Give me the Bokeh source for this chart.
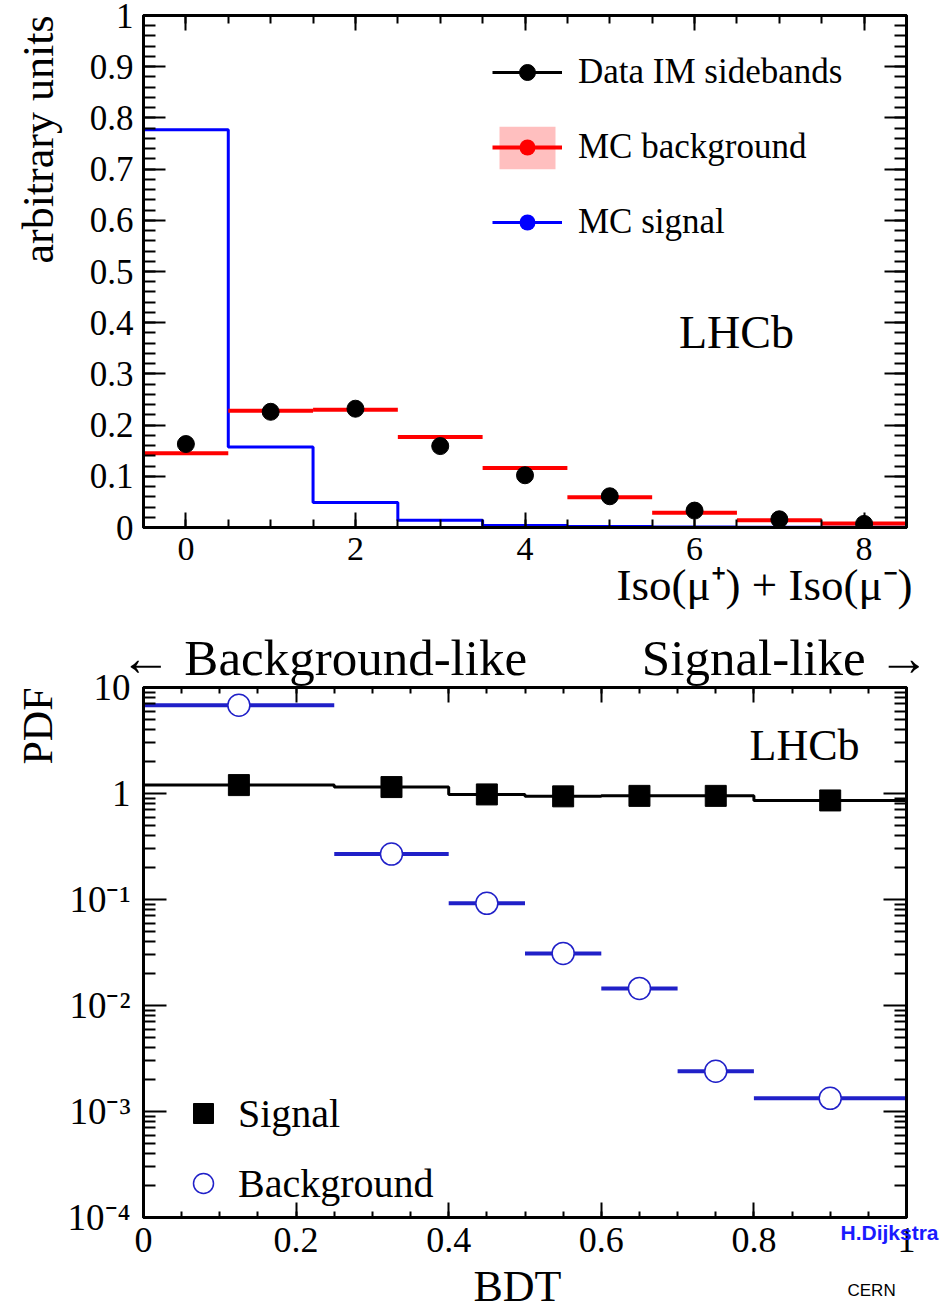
import math
from bokeh.plotting import figure
from bokeh.models import (Range1d, LinearAxis, LogAxis, SingleIntervalTicker, FixedTicker,
                          CustomJSTickFormatter, Label, Legend, LegendItem, Title)
from bokeh.layouts import column
from bokeh.embed import file_html
from bokeh.resources import INLINE

SERIF = "Liberation Serif"

# ---------------- data: top panel (isolation) ----------------
iso_centers = [0, 1, 2, 3, 4, 5, 6, 7, 8]
iso_data = [0.163, 0.226, 0.232, 0.159, 0.102, 0.061, 0.033, 0.016, 0.007]
iso_mc_bkg = [0.145, 0.228, 0.230, 0.177, 0.116, 0.059, 0.029, 0.014, 0.008]
iso_mc_sig = [0.777, 0.157, 0.049, 0.014, 0.004, 0.002, 0.001, 0.0005, 0.0005]

# ---------------- data: bottom panel (BDT) ----------------
bdt_edges = [0.0, 0.25, 0.4, 0.5, 0.6, 0.7, 0.8, 1.0]
bdt_signal = [1.20, 1.15, 0.98, 0.94, 0.95, 0.95, 0.86]
bdt_background = [6.8, 0.268, 0.092, 0.031, 0.0145, 0.0024, 0.00133]

iso_tick_step = 2
bdt_tick_step = 0.2

BLUE2 = "#2020c8"
NB = "\u00a0"


def style_axis(ax, major_in, minor_in, font_size, show=True, standoff=10):
    ax.axis_line_width = 3
    ax.axis_line_color = "black"
    ax.major_tick_in = major_in
    ax.major_tick_out = 0
    ax.minor_tick_in = minor_in
    ax.minor_tick_out = 0
    ax.major_tick_line_width = 2
    ax.minor_tick_line_width = 2
    ax.major_tick_line_color = "black"
    ax.minor_tick_line_color = "black"
    ax.major_label_text_font = SERIF
    ax.major_label_text_color = "black"
    if show:
        ax.major_label_text_font_size = font_size
        ax.major_label_standoff = standoff
    else:
        ax.major_label_text_font_size = "1px"
        ax.major_label_standoff = 0
        ax.formatter = CustomJSTickFormatter(code="return '';")
    ax.axis_label = None


def side_title(text, size, align, standoff, **kw):
    t = Title(text=text, align=align, text_font=SERIF, text_font_style="normal",
              text_font_size=size, text_color="black", standoff=standoff)
    for k, v in kw.items():
        setattr(t, k, v)
    return t


lin_fmt = CustomJSTickFormatter(code="return String(Number(tick.toFixed(3)));")
log_fmt = CustomJSTickFormatter(code="""
const e = Math.round(Math.log10(tick));
if (e == 0) { return '1'; }
if (e == 1) { return '10'; }
const sup = {'-':'\u207b','0':'\u2070','1':'\u00b9','2':'\u00b2','3':'\u00b3','4':'\u2074',
             '5':'\u2075','6':'\u2076','7':'\u2077','8':'\u2078','9':'\u2079'};
return '10' + String(e).split('').map(c => sup[c]).join('');
""")


def lab(fig, x, y, text, size, **kw):
    opts = dict(x=x, y=y, x_units="screen", y_units="screen", text=text, text_font=SERIF,
                text_font_size=size, text_color="black", text_align="center",
                text_baseline="middle")
    opts.update(kw)
    fig.add_layout(Label(**opts))


# ====================== TOP FIGURE ======================
top = figure(width=942, height=621, x_range=Range1d(-0.5, 8.5), y_range=Range1d(0, 1),
             output_backend="svg", toolbar_location=None,
             min_border_left=143, min_border_right=28, min_border_top=15, min_border_bottom=94)
top.xgrid.visible = False
top.ygrid.visible = False
top.outline_line_color = "black"
top.outline_line_width = 3

tx = SingleIntervalTicker(interval=iso_tick_step, num_minor_ticks=4)
ty = SingleIntervalTicker(interval=0.1, num_minor_ticks=5)
top.xaxis.ticker = tx
top.yaxis.ticker = ty
top.xaxis.formatter = lin_fmt
top.yaxis.formatter = lin_fmt
style_axis(top.xaxis[0], 15, 8, "34px", standoff=10)
style_axis(top.yaxis[0], 22, 12, "35px", standoff=10)
ax_above = LinearAxis(ticker=tx)
style_axis(ax_above, 15, 8, None, show=False)
top.add_layout(ax_above, "above")
ax_right = LinearAxis(ticker=ty)
style_axis(ax_right, 22, 12, None, show=False)
top.add_layout(ax_right, "right")
# axis titles (ROOT style: aligned at the axis end)
top.add_layout(side_title("arbitrary units\n" + NB, "44px", "right", -54,
                          vertical_align="top"), "left")
top.add_layout(side_title("Iso(\u03bc\u207a) + Iso(\u03bc\u207b)", "45px", "right", -5,
                          vertical_align="top", offset=-6), "below")

sig_edges = [c - 0.5 for c in iso_centers] + [iso_centers[-1] + 0.5]
bin_lo = [c - 0.5 for c in iso_centers]
bin_hi = [c + 0.5 for c in iso_centers]
sig_step = top.step(x=sig_edges, y=iso_mc_sig + [iso_mc_sig[-1]], mode="after",
                    line_color="blue", line_width=3)
bkg_band = top.quad(left=bin_lo, right=bin_hi, bottom=iso_mc_bkg, top=iso_mc_bkg,
                    fill_color="red", fill_alpha=0.25, line_color=None)
bkg_seg = top.segment(x0=bin_lo, x1=bin_hi, y0=iso_mc_bkg, y1=iso_mc_bkg,
                      line_color="red", line_width=4)
data_err = top.segment(x0=iso_centers, x1=iso_centers, y0=iso_data, y1=iso_data,
                       line_color="black", line_width=3)
data_pts = top.scatter(x=iso_centers, y=iso_data, size=17, marker="circle",
                       fill_color="black", line_color="black")
bkg_pts = top.scatter(x=iso_centers, y=iso_mc_bkg, size=0, marker="circle",
                      fill_color="red", line_color="red", line_width=0)
sig_pts = top.scatter(x=iso_centers, y=iso_mc_sig, size=0, marker="circle",
                      fill_color="blue", line_color="blue", line_width=0)

leg_band = Legend(items=[LegendItem(label=NB, renderers=[bkg_band])],
                  location=(349, 353), glyph_width=70, glyph_height=53, padding=0, margin=0,
                  label_text_font_size="10px", border_line_color=None, background_fill_alpha=0)
top.add_layout(leg_band)
leg_top = Legend(items=[LegendItem(label="Data IM sidebands", renderers=[data_err, data_pts]),
                        LegendItem(label="MC background", renderers=[bkg_seg, bkg_pts]),
                        LegendItem(label="MC signal", renderers=[sig_step, sig_pts])],
                 location=(349, 285), glyph_width=70, glyph_height=40, label_height=40,
                 spacing=35, padding=0, margin=0, label_standoff=16,
                 label_text_font=SERIF, label_text_font_size="35px",
                 label_text_color="black",
                 border_line_color=None, background_fill_alpha=0)
top.add_layout(leg_top)

lab(top, 593, 195, "LHCb", "46px")

# ====================== BOTTOM FIGURE ======================
bot = figure(width=942, height=690, x_range=Range1d(0, 1), y_range=Range1d(1e-4, 10),
             y_axis_type="log", output_backend="svg", toolbar_location=None,
             min_border_left=139, min_border_right=36, min_border_top=66, min_border_bottom=94)
bot.xgrid.visible = False
bot.ygrid.visible = False
bot.outline_line_color = "black"
bot.outline_line_width = 3

bx = SingleIntervalTicker(interval=bdt_tick_step, num_minor_ticks=4)
log_major = [10.0 ** e for e in range(-4, 2)]
log_minor = [k * 10.0 ** e for e in range(-4, 1) for k in range(2, 10)]
by = FixedTicker(ticks=log_major, minor_ticks=log_minor)
bot.xaxis.ticker = bx
bot.yaxis.ticker = by
bot.xaxis.formatter = lin_fmt
bot.yaxis.formatter = log_fmt
style_axis(bot.xaxis[0], 15, 6, "36px", standoff=10)
style_axis(bot.yaxis[0], 23, 12, "37px", standoff=13)
b_above = LinearAxis(ticker=bx)
style_axis(b_above, 15, 6, None, show=False)
bot.add_layout(b_above, "above")
b_right = LogAxis(ticker=by)
style_axis(b_right, 23, 12, None, show=False)
bot.add_layout(b_right, "right")
bot.add_layout(side_title("PDF", "42px", "right", 8), "left")
bot.add_layout(side_title(NB + "\nBDT", "44px", "left", -84, vertical_align="top", offset=330),
               "below")

direction_text = "\u2190 Background-like" + NB * 9 + "Signal-like \u2192"
bot.add_layout(side_title(direction_text, "51px", "center", 4), "above")

# author tag drawn just under the frame, right side (zero-height side panel)
try:
    tag = Title(text="\nH.Dijkstra", align="left", offset=697, text_font="Liberation Sans",
                text_font_style="bold", text_font_size="21px", text_color="#1a1aff",
                vertical_align="bottom", standoff=-53)
    cern = Title(text="\n" * 7 + "CERN", align="left", offset=704, text_font="Liberation Sans",
                 text_font_style="normal", text_font_size="17px", text_color="black",
                 vertical_align="bottom", standoff=-165)
    bot.below = [tag, cern] + list(bot.below)
except Exception:
    pass

bdt_centers = [(a + b) / 2 for a, b in zip(bdt_edges[:-1], bdt_edges[1:])]

bot.segment(x0=bdt_edges[:-1], x1=bdt_edges[1:], y0=bdt_background, y1=bdt_background,
            line_color=BLUE2, line_width=4)
bot.step(x=bdt_edges, y=bdt_signal + [bdt_signal[-1]], mode="after",
         line_color="black", line_width=3)
sig_sq = bot.scatter(x=bdt_centers, y=bdt_signal, marker="square", size=21,
                     fill_color="black", line_color="black")
bkg_circ = bot.scatter(x=bdt_centers, y=bdt_background, marker="circle", size=22,
                       fill_color="white", line_color=BLUE2, line_width=1.5)

leg_bot = Legend(items=[LegendItem(label="Signal", renderers=[sig_sq]),
                        LegendItem(label="Background", renderers=[bkg_circ])],
                 location=(35, 9), glyph_width=50, glyph_height=50, label_height=50,
                 spacing=20, padding=0, margin=0, label_standoff=10,
                 label_text_font=SERIF, label_text_font_size="40px",
                 label_text_color="black",
                 border_line_color=None, background_fill_alpha=0)
bot.add_layout(leg_bot)

lab(bot, 661, 472, "LHCb", "44px")

layout = column(top, bot, spacing=0)
open("out.html", "w").write(file_html(layout, INLINE))
